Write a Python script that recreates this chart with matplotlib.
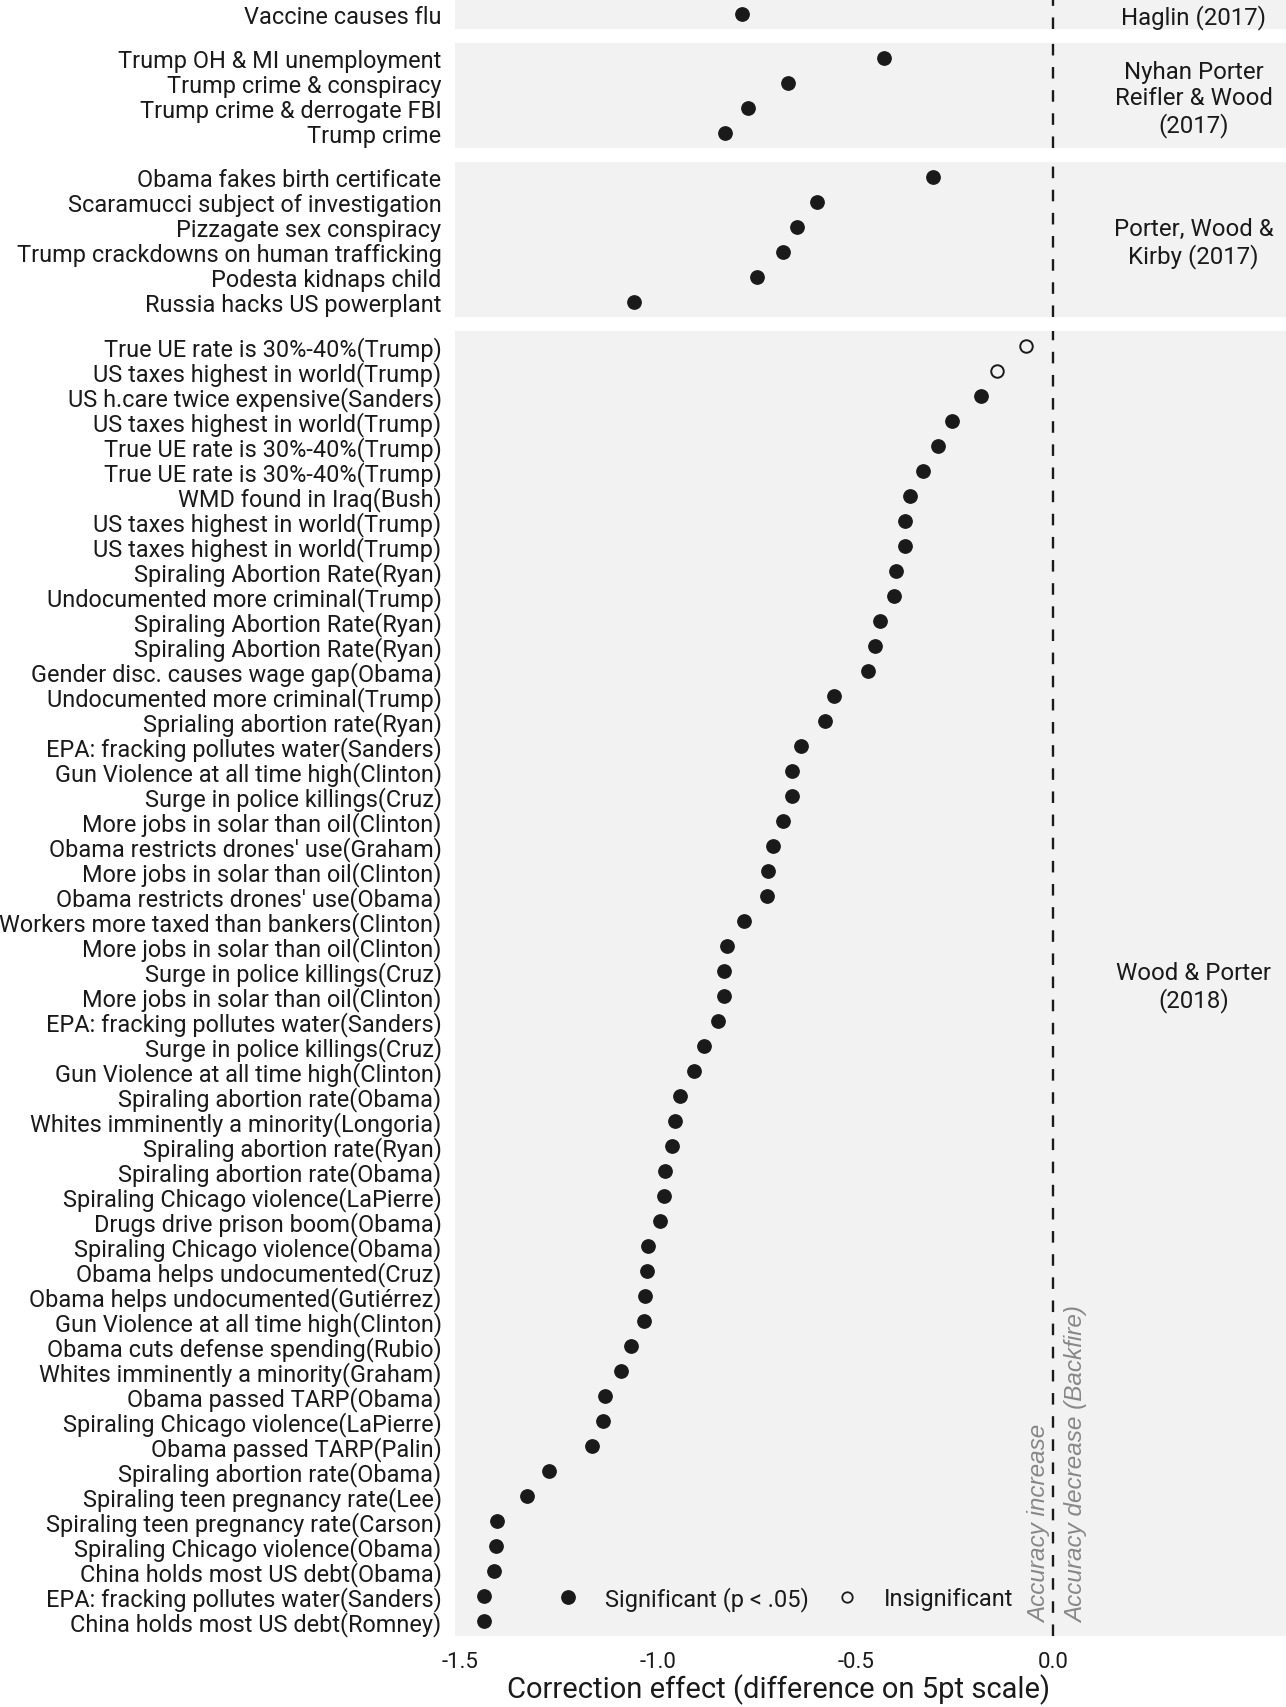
import matplotlib
matplotlib.use("Agg")
import matplotlib.pyplot as plt
from matplotlib.lines import Line2D
from matplotlib.transforms import offset_copy

# ---------------- data ----------------
study_labels = [
    "Haglin (2017)",
    "Nyhan Porter\nReifler & Wood\n(2017)",
    "Porter, Wood &\nKirby (2017)",
    "Wood & Porter\n(2018)",
]

haglin_items = ["Vaccine causes flu"]
haglin_effects = [-0.787]
haglin_sig = [True]

nyhan_items = [
    "Trump OH & MI unemployment",
    "Trump crime & conspiracy",
    "Trump crime & derrogate FBI",
    "Trump crime",
]
nyhan_effects = [-0.428, -0.671, -0.773, -0.831]
nyhan_sig = [True, True, True, True]

porter_items = [
    "Obama fakes birth certificate",
    "Scaramucci subject of investigation",
    "Pizzagate sex conspiracy",
    "Trump crackdowns on human trafficking",
    "Podesta kidnaps child",
    "Russia hacks US powerplant",
]
porter_effects = [-0.304, -0.597, -0.649, -0.685, -0.749, -1.061]
porter_sig = [True, True, True, True, True, True]

wood_items = [
    "True UE rate is 30%-40%(Trump)",
    "US taxes highest in world(Trump)",
    "US h.care twice expensive(Sanders)",
    "US taxes highest in world(Trump)",
    "True UE rate is 30%-40%(Trump)",
    "True UE rate is 30%-40%(Trump)",
    "WMD found in Iraq(Bush)",
    "US taxes highest in world(Trump)",
    "US taxes highest in world(Trump)",
    "Spiraling Abortion Rate(Ryan)",
    "Undocumented more criminal(Trump)",
    "Spiraling Abortion Rate(Ryan)",
    "Spiraling Abortion Rate(Ryan)",
    "Gender disc. causes wage gap(Obama)",
    "Undocumented more criminal(Trump)",
    "Sprialing abortion rate(Ryan)",
    "EPA: fracking pollutes water(Sanders)",
    "Gun Violence at all time high(Clinton)",
    "Surge in police killings(Cruz)",
    "More jobs in solar than oil(Clinton)",
    "Obama restricts drones' use(Graham)",
    "More jobs in solar than oil(Clinton)",
    "Obama restricts drones' use(Obama)",
    "Workers more taxed than bankers(Clinton)",
    "More jobs in solar than oil(Clinton)",
    "Surge in police killings(Cruz)",
    "More jobs in solar than oil(Clinton)",
    "EPA: fracking pollutes water(Sanders)",
    "Surge in police killings(Cruz)",
    "Gun Violence at all time high(Clinton)",
    "Spiraling abortion rate(Obama)",
    "Whites imminently a minority(Longoria)",
    "Spiraling abortion rate(Ryan)",
    "Spiraling abortion rate(Obama)",
    "Spiraling Chicago violence(LaPierre)",
    "Drugs drive prison boom(Obama)",
    "Spiraling Chicago violence(Obama)",
    "Obama helps undocumented(Cruz)",
    "Obama helps undocumented(Gutiérrez)",
    "Gun Violence at all time high(Clinton)",
    "Obama cuts defense spending(Rubio)",
    "Whites imminently a minority(Graham)",
    "Obama passed TARP(Obama)",
    "Spiraling Chicago violence(LaPierre)",
    "Obama passed TARP(Palin)",
    "Spiraling abortion rate(Obama)",
    "Spiraling teen pregnancy rate(Lee)",
    "Spiraling teen pregnancy rate(Carson)",
    "Spiraling Chicago violence(Obama)",
    "China holds most US debt(Obama)",
    "EPA: fracking pollutes water(Sanders)",
    "China holds most US debt(Romney)",
]
wood_effects = [
    -0.069, -0.144, -0.182, -0.257, -0.293, -0.329, -0.362, -0.376, -0.376, -0.398,
    -0.403, -0.439, -0.450, -0.470, -0.555, -0.577, -0.638, -0.660, -0.660, -0.685,
    -0.710, -0.721, -0.724, -0.782, -0.826, -0.834, -0.834, -0.848, -0.884, -0.909,
    -0.945, -0.956, -0.964, -0.981, -0.986, -0.994, -1.025, -1.028, -1.033, -1.036,
    -1.069, -1.094, -1.135, -1.138, -1.166, -1.276, -1.331, -1.406, -1.409, -1.414,
    -1.439, -1.439,
]
wood_sig = [False, False] + [True] * 50

xtick_values = [-1.5, -1.0, -0.5, 0.0]
xtick_labels = ["-1.5", "-1.0", "-0.5", "0.0"]
x_title = "Correction effect (difference on 5pt scale)"
legend_labels = ["Significant (p < .05)", "Insignificant"]
note_increase = "Accuracy increase"
note_decrease = "Accuracy decrease (Backfire)"

panels = [
    (haglin_items, haglin_effects, haglin_sig),
    (nyhan_items, nyhan_effects, nyhan_sig),
    (porter_items, porter_effects, porter_sig),
    (wood_items, wood_effects, wood_sig),
]

# ---------------- style / layout ----------------
W, H, DPI = 1286, 1708, 100
BG = "#F2F2F2"
INK = "#1a1a1a"
GREY = "#878787"
FONT = "Roboto"
unit = 25.0      # px per row
gap = 14.0       # px between panels
left_px = 455.5
panel_w = 646.0
strip_w = W - left_px - panel_w
xlim = (-1.512, 0.1215)

fig = plt.figure(figsize=(W / DPI, H / DPI), dpi=DPI)
fig.patch.set_facecolor("white")


def add_px_axes(x0, ytop, w, h):
    return fig.add_axes([x0 / W, 1 - (ytop + h) / H, w / W, h / H])


ytop = 0.0
axes = []
for i, ((items, effects, sig), study) in enumerate(zip(panels, study_labels)):
    n = len(items)
    h = (n - 1 + 1.2) * unit
    ax = add_px_axes(left_px, ytop, panel_w, h)
    st = add_px_axes(left_px + panel_w, ytop, strip_w, h)
    ytop += h + gap
    axes.append(ax)

    ax.set_facecolor(BG)
    st.set_facecolor(BG)
    for a in (ax, st):
        for s in a.spines.values():
            s.set_visible(False)
    st.set_xticks([])
    st.set_yticks([])
    st.text(0.5, 0.5, study,
            transform=offset_copy(st.transAxes, fig=fig, x=0, y=-3.0, units="dots"),
            ha="center", va="center",
            fontsize=17.3, family=FONT, color=INK, linespacing=1.15)

    ax.set_xlim(*xlim)
    ax.set_ylim(n - 1 + 0.6, -0.6)
    ax.axvline(0, color=INK, lw=1.7, ls=(0, (4.9, 4.9)), zorder=1)

    ys = list(range(n))
    sx = [e for e, s in zip(effects, sig) if s]
    sy = [y for y, s in zip(ys, sig) if s]
    ix = [e for e, s in zip(effects, sig) if not s]
    iy = [y for y, s in zip(ys, sig) if not s]
    ax.plot(sx, sy, ls="none", marker="o", ms=9.6, color=INK, zorder=3)
    if ix:
        ax.plot(ix, iy, ls="none", marker="o", ms=9.0, mfc="none", mec=INK,
                mew=1.4, zorder=3)

    ax.set_yticks(ys)
    ax.set_yticklabels(items, fontsize=16.95, family=FONT, color=INK)
    ax.tick_params(axis="y", length=0, pad=10)
    if i < len(panels) - 1:
        ax.set_xticks([])
    else:
        ax.set_xticks(xtick_values)
        ax.set_xticklabels(xtick_labels, fontsize=16, family=FONT, color=INK)
        ax.tick_params(axis="x", length=0, pad=11)
        ax.set_xlabel(x_title, fontsize=21, family=FONT, color=INK, labelpad=1)

ax4 = axes[-1]
ax4.text(-0.035, 51.05, note_increase, rotation=90, ha="center", va="bottom",
         fontsize=17.5, family="Liberation Sans", style="italic", color=GREY)
ax4.text(0.06, 51.05, note_decrease, rotation=90, ha="center", va="bottom",
         fontsize=17.5, family="Liberation Sans", style="italic", color=GREY)

handles = [
    Line2D([], [], ls="none", marker="o", ms=9.6, color=INK),
    Line2D([], [], ls="none", marker="o", ms=7.5, mfc="none", mec=INK, mew=1.3),
]
leg = ax4.legend(handles, legend_labels, loc="center left",
                 bbox_to_anchor=(0.156, 0.0287), ncol=2, frameon=False,
                 handlelength=1.0, handletextpad=1.07, columnspacing=1.11,
                 borderpad=0, borderaxespad=0,
                 prop={"family": FONT, "size": 17})
for t in leg.get_texts():
    t.set_color(INK)

fig.savefig("out.png", dpi=DPI, facecolor="white")
